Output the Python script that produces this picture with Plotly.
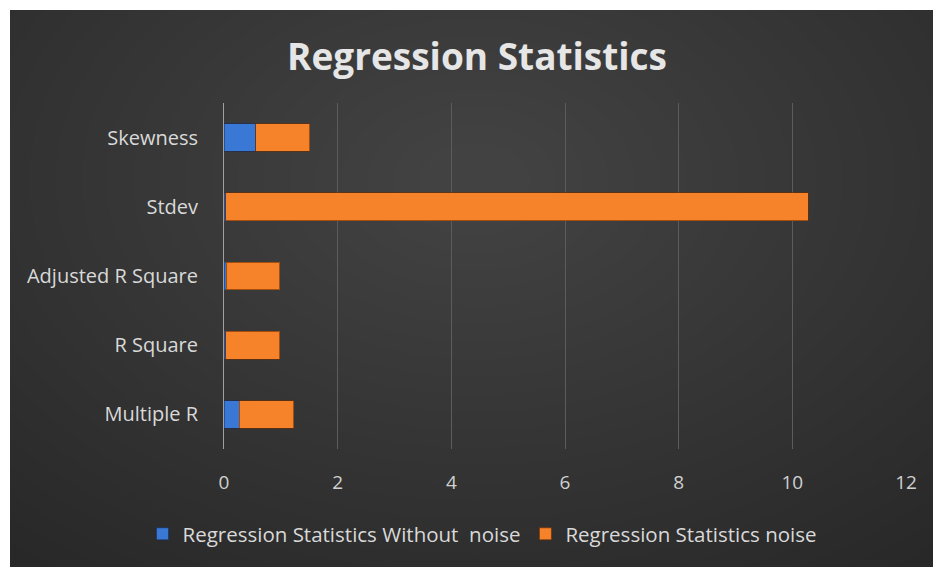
import plotly.graph_objects as go

categories = ["Multiple R", "R Square", "Adjusted R Square", "Stdev", "Skewness"]
without_noise = [0.27, 0.03, 0.04, 0.03, 0.56]
with_noise = [0.96, 0.95, 0.94, 10.25, 0.95]
x_ticks = [0, 2, 4, 6, 8, 10, 12]

W, H = 933, 567
L, R, T, B = 224, 27, 103, 118
pw = W - L - R
ph = H - T - B

def px(x):
    return (x - L) / pw

def py(y):
    return (H - B - y) / ph

shapes = [dict(type="rect", xref="paper", yref="paper", x0=px(10), x1=px(W), y0=py(10), y1=py(H),
               fillcolor="#282828", line=dict(width=0), layer="below")]
cx, cy = 475, 180
n = 26
for k in range(n, 0, -1):
    rx = 30 + k * 26
    ry = rx * 0.68
    shapes.append(dict(type="circle", xref="paper", yref="paper",
                       x0=px(cx - rx), x1=px(cx + rx), y0=py(cy - ry), y1=py(cy + ry),
                       fillcolor="white", opacity=0.009, line=dict(width=0), layer="below"))

FONT = "Open Sans"
fig = go.Figure()
fig.add_trace(go.Bar(y=categories, x=without_noise, orientation="h",
                     name="Regression Statistics Without\u00a0\u00a0noise",
                     marker=dict(color="#3a78d6", line=dict(color="rgba(20,40,90,0.5)", width=1))))
fig.add_trace(go.Bar(y=categories, x=with_noise, orientation="h",
                     name="Regression Statistics noise",
                     marker=dict(color="#f6822a", line=dict(color="rgba(110,45,0,0.6)", width=1))))

fig.update_layout(
    width=W, height=H,
    barmode="stack", bargap=0.6,
    paper_bgcolor="white", plot_bgcolor="rgba(0,0,0,0)",
    margin=dict(l=L, r=R, t=T, b=B),
    shapes=shapes,
    font=dict(family=FONT, color="#d9d9d9"),
    title=dict(text="<b>Regression Statistics</b>", x=477 / W, xref="container", xanchor="center",
               y=1 - 57 / H, yref="container", yanchor="middle",
               font=dict(family=FONT, size=37, color="#e6e6e6")),
    xaxis=dict(range=[0, 12], tickvals=x_ticks, showgrid=True, gridcolor="#5c5c5c", gridwidth=1,
               zeroline=False, showline=False, ticks="", ticklabelstandoff=20,
               tickfont=dict(size=19, color="#d0d0d0")),
    yaxis=dict(showgrid=False, showline=True, linecolor="#a0a0a0", linewidth=1,
               ticks="", ticklabelstandoff=21, tickfont=dict(size=20, color="#d9d9d9")),
    legend=dict(orientation="h", xref="container", x=482 / W, xanchor="center",
                yref="container", y=1 - 534 / H, yanchor="middle",
                font=dict(size=20.5, color="#d9d9d9"), itemwidth=30,
                bgcolor="rgba(0,0,0,0)", traceorder="normal"),
    showlegend=True,
)

fig.write_html("out.html")
